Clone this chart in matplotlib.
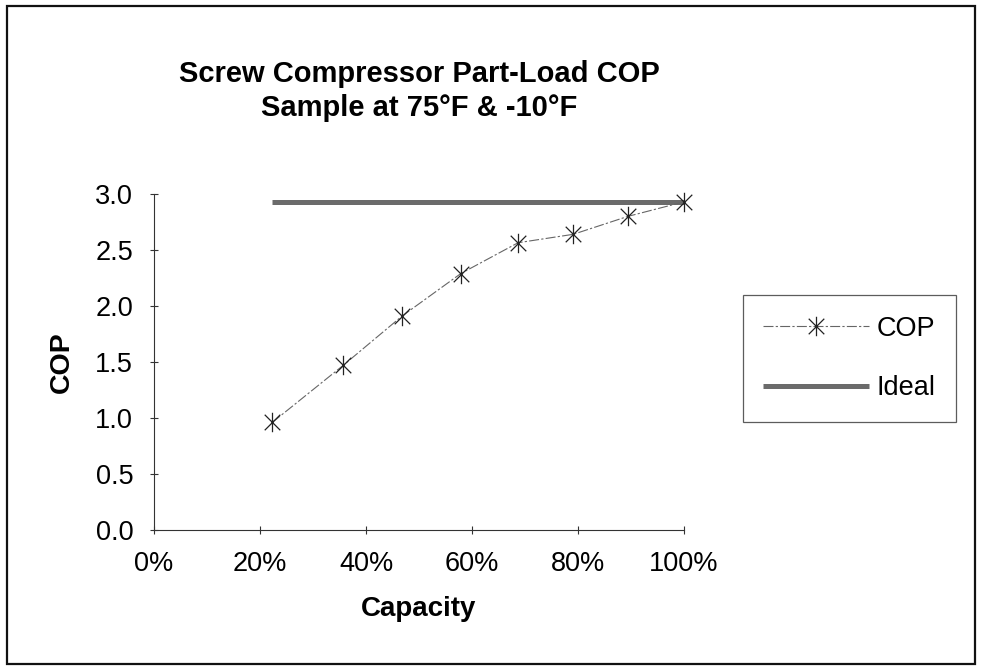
import matplotlib

matplotlib.use("Agg")

import matplotlib.pyplot as plt
from matplotlib.patches import Rectangle
from matplotlib.path import Path
from matplotlib.ticker import FuncFormatter


capacity = [0.223, 0.357, 0.468, 0.579, 0.687, 0.791, 0.894, 1.0]
cop = [0.96, 1.47, 1.91, 2.29, 2.565, 2.64, 2.80, 2.93]
ideal_capacity = [0.223, 1.0]
ideal_cop = [2.93, 2.93]

x_ticks = [0.0, 0.2, 0.4, 0.6, 0.8, 1.0]
y_ticks = [0.0, 0.5, 1.0, 1.5, 2.0, 2.5, 3.0]

W, H = 982, 672


def star_marker():
    # Excel style "star": an X with a vertical bar through it
    verts = [(0, -1), (0, 1), (-0.8, -0.8), (0.8, 0.8), (-0.8, 0.8), (0.8, -0.8)]
    codes = [Path.MOVETO, Path.LINETO] * 3
    return Path(verts, codes)


def main():
    plt.rcParams["font.family"] = ["Liberation Sans", "DejaVu Sans"]

    fig = plt.figure(figsize=(W / 100, H / 100), dpi=100)
    ax = fig.add_axes([154 / W, 1 - 530 / H, 530 / W, 336 / H])

    ax.plot(ideal_capacity, ideal_cop, color="#6b6b6b", linewidth=3.6,
            solid_capstyle="butt", label="Ideal", zorder=2)
    ax.plot(capacity, cop, color="#666666", linewidth=0.8,
            linestyle=(0, (9, 2, 2, 2)), marker=star_marker(), markersize=14,
            markerfacecolor="none", markeredgecolor="#222222", markeredgewidth=0.9,
            label="COP", clip_on=False, zorder=3)

    ax.set_xlim(0, 1.0)
    ax.set_ylim(0, 3.0)
    ax.set_xticks(x_ticks)
    ax.set_yticks(y_ticks)
    ax.xaxis.set_major_formatter(FuncFormatter(lambda v, p: f"{v * 100:.0f}%"))
    ax.yaxis.set_major_formatter(FuncFormatter(lambda v, p: f"{v:.1f}"))

    for side in ("top", "right"):
        ax.spines[side].set_visible(False)
    for side in ("left", "bottom"):
        ax.spines[side].set_color("#333333")
        ax.spines[side].set_linewidth(0.8)

    ax.tick_params(direction="inout", length=6, width=0.8, color="#333333",
                   labelsize=19.5)
    ax.tick_params(axis="x", pad=12)
    ax.tick_params(axis="y", pad=12)

    ax.set_xlabel("Capacity", fontsize=20, fontweight="bold", labelpad=14)
    ax.set_ylabel("COP", fontsize=20.5, fontweight="bold", labelpad=15)

    fig.text(419 / W, 1 - 91 / H, "Screw Compressor Part-Load COP\nSample at 75°F & -10°F",
             ha="center", va="center", fontsize=21, fontweight="bold",
             linespacing=1.3)

    handles, labels = ax.get_legend_handles_labels()
    leg = fig.legend(handles[::-1], labels[::-1], loc="center",
                     bbox_to_anchor=(849.5 / W, 1 - 358.5 / H),
                     fontsize=19.5, frameon=True, fancybox=False,
                     handlelength=3.9, handletextpad=0.3, borderpad=0.75,
                     labelspacing=1.25, borderaxespad=0)
    leg.get_frame().set_edgecolor("#333333")
    leg.get_frame().set_linewidth(0.9)

    # outer border of the chart area
    fig.add_artist(Rectangle((7 / W, 1 - 664 / H), 968 / W, 658 / H,
                             transform=fig.transFigure, fill=False,
                             edgecolor="#111111", linewidth=1.6))

    fig.savefig("out.png", dpi=100)
    plt.close(fig)


if __name__ == "__main__":
    main()
